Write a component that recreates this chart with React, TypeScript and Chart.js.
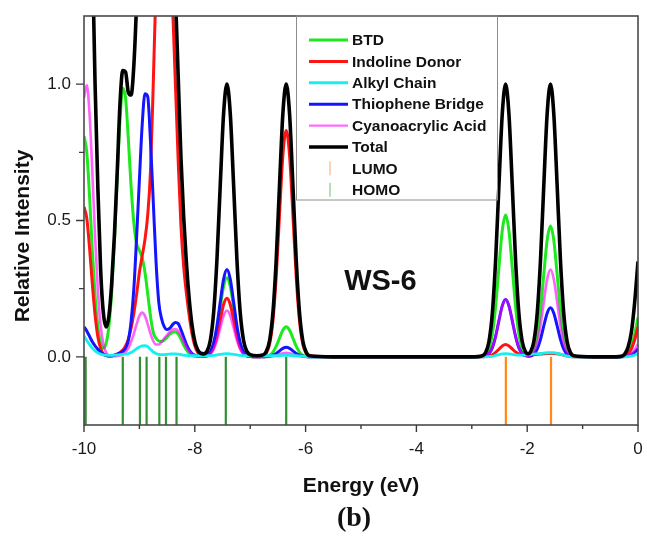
import React, { useEffect, useRef } from 'react';
import { Chart, registerables } from 'chart.js';

Chart.register(...registerables);

// ---------- DATA ----------
const energy = [
  -10, -9.95, -9.9, -9.85, -9.8, -9.75, -9.7, -9.65, -9.6, -9.55, -9.5, -9.45, -9.4, -9.35, -9.3, -9.25, -9.2, -9.15, -9.1, -9.05,
  -9.0, -8.95, -8.9, -8.85, -8.8, -8.75, -8.7, -8.65, -8.6, -8.55, -8.5, -8.45, -8.4, -8.35, -8.3, -8.25, -8.2, -8.15, -8.1, -8.05,
  -8.0, -7.95, -7.9,
  -7.84, -7.78, -7.72, -7.66, -7.6, -7.54, -7.48, -7.42, -7.36, -7.3, -7.24, -7.18, -7.12, -7.06, -7.0,
  -6.88,
  -6.77, -6.71, -6.65, -6.59, -6.53, -6.47, -6.41, -6.35, -6.29, -6.23, -6.17, -6.11, -6.05, -5.99, -5.93,
  -5.5, -4.5, -3.5, -3.0,
  -2.81, -2.75, -2.69, -2.63, -2.57, -2.51, -2.45, -2.39, -2.33, -2.27, -2.21, -2.15, -2.09, -2.03,
  -1.985,
  -1.94, -1.88, -1.82, -1.76, -1.7, -1.64, -1.58, -1.52, -1.46, -1.4, -1.34, -1.28, -1.22, -1.16,
  -0.8, -0.4, -0.3, -0.24, -0.18, -0.12, -0.06, 0,
];

const btd = [
  0.81, 0.75, 0.59, 0.39, 0.225, 0.11, 0.05, 0.032, 0.05, 0.113, 0.237, 0.428, 0.66, 0.867, 0.985, 0.95, 0.8, 0.625, 0.49, 0.415,
  0.39, 0.363, 0.31, 0.232, 0.15, 0.09, 0.068, 0.058, 0.056, 0.062, 0.072, 0.083, 0.09, 0.092, 0.083, 0.065, 0.043, 0.025, 0.012, 0.005,
  0.002, 0.001, 0.001,
  0.001, 0.005, 0.016, 0.046, 0.103, 0.183, 0.258, 0.29, 0.258, 0.183, 0.103, 0.046, 0.016, 0.005, 0.001,
  0,
  0, 0.002, 0.006, 0.017, 0.039, 0.069, 0.098, 0.11, 0.098, 0.069, 0.039, 0.017, 0.006, 0.002, 0,
  0, 0, 0, 0,
  0.002, 0.008, 0.029, 0.082, 0.185, 0.328, 0.463, 0.52, 0.463, 0.328, 0.185, 0.082, 0.029, 0.009,
  0.005,
  0.008, 0.027, 0.076, 0.17, 0.303, 0.428, 0.48, 0.428, 0.303, 0.17, 0.076, 0.027, 0.008, 0.002,
  0, 0, 0.001, 0.004, 0.014, 0.037, 0.083, 0.145,
];

const indolineDonor = [
  0.55, 0.508, 0.4, 0.268, 0.153, 0.074, 0.031, 0.011, 0.004, 0.002, 0.003, 0.006, 0.01, 0.016, 0.025, 0.04, 0.065, 0.105, 0.16, 0.23,
  0.31, 0.37, 0.43, 0.52, 0.68, 1.0, 1.36, 1.6, 1.75, 1.75, 1.65, 1.5, 1.28, 1.0, 0.72, 0.48, 0.33, 0.23, 0.15, 0.085,
  0.04, 0.017, 0.006,
  0.003, 0.003, 0.012, 0.034, 0.076, 0.136, 0.192, 0.215, 0.192, 0.136, 0.076, 0.034, 0.012, 0.003, 0.001,
  0,
  0.003, 0.013, 0.046, 0.131, 0.295, 0.524, 0.74, 0.83, 0.74, 0.524, 0.295, 0.131, 0.046, 0.013, 0.003,
  0, 0, 0, 0,
  0, 0.001, 0.003, 0.007, 0.016, 0.028, 0.04, 0.045, 0.04, 0.029, 0.018, 0.011, 0.008, 0.007,
  0.007,
  0.007, 0.008, 0.009, 0.01, 0.011, 0.012, 0.012, 0.012, 0.011, 0.009, 0.006, 0.003, 0.001, 0,
  0, 0, 0.001, 0.003, 0.011, 0.028, 0.062, 0.11,
];

const alkylChain = [
  0.077, 0.06, 0.045, 0.032, 0.022, 0.015, 0.01, 0.007, 0.006, 0.005, 0.005, 0.006, 0.007, 0.008, 0.009, 0.01, 0.012, 0.016, 0.022, 0.03,
  0.036, 0.04, 0.041, 0.037, 0.028, 0.018, 0.012, 0.009, 0.008, 0.008, 0.009, 0.01, 0.011, 0.011, 0.01, 0.008, 0.006, 0.005, 0.004, 0.004,
  0.004, 0.004, 0.004,
  0.004, 0.004, 0.0045, 0.005, 0.007, 0.009, 0.011, 0.012, 0.011, 0.009, 0.007, 0.005, 0.0045, 0.004, 0.004,
  0.004,
  0.004, 0.004, 0.004, 0.004, 0.004, 0.004, 0.005, 0.005, 0.005, 0.004, 0.004, 0.003, 0.002, 0.001, 0,
  0, 0, 0, 0,
  0, 0, 0.001, 0.002, 0.005, 0.008, 0.011, 0.012, 0.011, 0.009, 0.007, 0.006, 0.006, 0.007,
  0.008,
  0.009, 0.01, 0.011, 0.012, 0.014, 0.015, 0.015, 0.015, 0.013, 0.01, 0.006, 0.003, 0.001, 0,
  0, 0, 0, 0, 0.001, 0.003, 0.006, 0.012,
];

const thiopheneBridge = [
  0.11, 0.095, 0.075, 0.055, 0.04, 0.028, 0.017, 0.01, 0.006, 0.004, 0.004, 0.006, 0.01, 0.014, 0.02, 0.03, 0.06, 0.13, 0.25, 0.44,
  0.65, 0.85, 0.965, 0.955, 0.79, 0.57, 0.35, 0.2, 0.14, 0.11, 0.1, 0.105, 0.118, 0.126, 0.122, 0.1, 0.072, 0.045, 0.025, 0.012,
  0.006, 0.004, 0.003,
  0.002, 0.005, 0.018, 0.051, 0.114, 0.202, 0.285, 0.32, 0.285, 0.202, 0.114, 0.051, 0.018, 0.005, 0.001,
  0,
  0, 0.001, 0.002, 0.006, 0.012, 0.022, 0.031, 0.035, 0.031, 0.022, 0.012, 0.006, 0.002, 0.001, 0,
  0, 0, 0, 0,
  0.001, 0.003, 0.012, 0.033, 0.075, 0.133, 0.187, 0.21, 0.187, 0.133, 0.075, 0.033, 0.012, 0.004,
  0.002,
  0.003, 0.01, 0.028, 0.064, 0.114, 0.16, 0.18, 0.16, 0.114, 0.064, 0.028, 0.01, 0.003, 0.001,
  0, 0, 0, 0.001, 0.003, 0.008, 0.017, 0.03,
];

const cyanoacrylicAcid = [
  0.95, 0.997, 0.891, 0.679, 0.441, 0.244, 0.115, 0.046, 0.016, 0.005, 0.002, 0.002, 0.003, 0.005, 0.01, 0.018, 0.032, 0.055, 0.085, 0.12,
  0.15, 0.162, 0.15, 0.12, 0.085, 0.058, 0.045, 0.045, 0.055, 0.068, 0.08, 0.092, 0.1, 0.102, 0.095, 0.078, 0.056, 0.036, 0.02, 0.01,
  0.005, 0.002, 0.001,
  0.001, 0.003, 0.01, 0.027, 0.06, 0.107, 0.151, 0.17, 0.151, 0.107, 0.06, 0.027, 0.01, 0.003, 0.001,
  0,
  0, 0, 0.001, 0.002, 0.005, 0.009, 0.013, 0.015, 0.013, 0.009, 0.005, 0.002, 0.001, 0, 0,
  0, 0, 0, 0,
  0.001, 0.003, 0.012, 0.033, 0.075, 0.133, 0.187, 0.21, 0.187, 0.133, 0.075, 0.033, 0.012, 0.004,
  0.003,
  0.005, 0.018, 0.051, 0.114, 0.202, 0.285, 0.32, 0.285, 0.202, 0.114, 0.051, 0.018, 0.005, 0.001,
  0, 0, 0, 0.001, 0.005, 0.012, 0.026, 0.046,
];

const total = [
  2.5, 2.4, 2.0, 1.5, 1.0, 0.62, 0.32, 0.16, 0.11, 0.15, 0.27, 0.45, 0.68, 0.93, 1.05, 1.045, 0.97, 0.96, 1.07, 1.3,
  1.6, 1.79, 1.89, 1.85, 1.73, 1.74, 1.84, 1.91, 2.01, 2.0, 1.91, 1.79, 1.6, 1.33, 1.03, 0.73, 0.51, 0.34, 0.21, 0.116,
  0.057, 0.027, 0.014,
  0.011, 0.02, 0.06, 0.162, 0.358, 0.633, 0.893, 1.0, 0.893, 0.633, 0.358, 0.162, 0.06, 0.02, 0.008,
  0.004,
  0.007, 0.02, 0.06, 0.162, 0.358, 0.633, 0.893, 1.0, 0.893, 0.633, 0.358, 0.162, 0.058, 0.018, 0.004,
  0, 0, 0, 0,
  0.004, 0.016, 0.056, 0.158, 0.355, 0.631, 0.891, 1.0, 0.891, 0.631, 0.355, 0.158, 0.056, 0.018,
  0.011,
  0.018, 0.056, 0.158, 0.355, 0.631, 0.891, 1.0, 0.891, 0.631, 0.355, 0.158, 0.056, 0.016, 0.004,
  0, 0, 0.002, 0.01, 0.035, 0.09, 0.2, 0.35,
];

const homoLevels = [-9.99, -9.97, -9.3, -8.99, -8.87, -8.64, -8.52, -8.33, -7.44, -6.35];
const lumoLevels = [-2.385, -1.57];

const xMajorTicks = [-10, -8, -6, -4, -2, 0];
const xMinorTicks = [-9, -7, -5, -3, -1];
const yMajorTicks = [0, 0.5, 1.0];
const yMinorTicks = [0.25, 0.75];

const X_MIN = -10;
const X_MAX = 0;
const Y_MIN = -0.25;
const Y_MAX = 1.25;

const seriesNames = ['BTD', 'Indoline Donor', 'Alkyl Chain', 'Thiophene Bridge', 'Cyanoacrylic Acid', 'Total'];
const levelNames = ['LUMO', 'HOMO'];
const panelLabel = 'WS-6';
const panelLetter = '(b)';
const xTitle = 'Energy (eV)';
const yTitle = 'Relative Intensity';

// ---------- STYLE ----------
const FONT = '"Liberation Sans", Arial, Helvetica, sans-serif';
const C_GREEN = '#1ee81e';
const C_RED = '#ff1414';
const C_CYAN = '#14f0f0';
const C_BLUE = '#1414ff';
const C_MAGENTA = 'rgba(255,0,255,0.62)';
const C_MAGENTA_LEG = '#ff6cff';
const C_BLACK = '#000000';
const C_HOMO = '#338f33';
const C_LUMO = '#ff8a1c';

const pts = (vals: number[]) => energy.map((e, i) => ({ x: e, y: vals[i] }));
const sticks = (levels: number[]) =>
  levels.flatMap((e) => [
    { x: e, y: 0 },
    { x: e, y: Y_MIN },
    { x: e, y: null as any },
  ]);

const zeroPad = (s: any) => {
  s.paddingLeft = 0;
  s.paddingRight = 0;
  s.paddingTop = 0;
  s.paddingBottom = 0;
};

const decorPlugin = {
  id: 'decor',
  afterDatasetsDraw(chart: any) {
    const { ctx, chartArea: ca, scales } = chart;
    const x = scales.x;
    const y = scales.y;
    ctx.save();

    // frame
    ctx.strokeStyle = '#4a4a4a';
    ctx.lineWidth = 1.6;
    ctx.strokeRect(ca.left, ca.top, ca.right - ca.left, ca.bottom - ca.top);

    // ticks
    ctx.strokeStyle = '#3a3a3a';
    ctx.lineWidth = 1.4;
    ctx.beginPath();
    xMajorTicks.forEach((v) => {
      const px = x.getPixelForValue(v);
      ctx.moveTo(px, ca.bottom);
      ctx.lineTo(px, ca.bottom + 7);
    });
    xMinorTicks.forEach((v) => {
      const px = x.getPixelForValue(v);
      ctx.moveTo(px, ca.bottom);
      ctx.lineTo(px, ca.bottom + 4);
    });
    yMajorTicks.forEach((v) => {
      const py = y.getPixelForValue(v);
      ctx.moveTo(ca.left, py);
      ctx.lineTo(ca.left - 8, py);
    });
    yMinorTicks.forEach((v) => {
      const py = y.getPixelForValue(v);
      ctx.moveTo(ca.left, py);
      ctx.lineTo(ca.left - 5, py);
    });
    ctx.stroke();

    // legend box
    const lx = ca.left + 212;
    const ly = ca.top;
    const lw = 201;
    const lh = 184;
    ctx.strokeStyle = '#8c8c8c';
    ctx.lineWidth = 1;
    ctx.strokeRect(lx + 0.5, ly, lw, lh);

    const legColors = [C_GREEN, C_RED, C_CYAN, C_BLUE, C_MAGENTA_LEG, C_BLACK];
    const rowStep = 21.4;
    ctx.font = `bold 15.5px ${FONT}`;
    ctx.textBaseline = 'middle';
    ctx.textAlign = 'left';
    seriesNames.forEach((name, i) => {
      const ry = ly + 24 + i * rowStep;
      ctx.strokeStyle = legColors[i];
      ctx.lineWidth = i === 5 ? 3.5 : i === 4 ? 2.2 : 3;
      ctx.beginPath();
      ctx.moveTo(lx + 13, ry);
      ctx.lineTo(lx + 52, ry);
      ctx.stroke();
      ctx.fillStyle = '#111';
      ctx.fillText(name, lx + 56, ry + 1);
    });
    const levColors = ['#f7a56e', '#6cbf6c'];
    levelNames.forEach((name, j) => {
      const ry = ly + 24 + (6 + j) * rowStep;
      ctx.strokeStyle = levColors[j];
      ctx.lineWidth = 1;
      ctx.beginPath();
      ctx.moveTo(lx + 34, ry - 7);
      ctx.lineTo(lx + 34, ry + 7);
      ctx.stroke();
      ctx.fillStyle = '#111';
      ctx.fillText(name, lx + 56, ry + 1);
    });

    // panel label
    ctx.fillStyle = '#111';
    ctx.font = `bold 29px ${FONT}`;
    ctx.textAlign = 'center';
    ctx.textBaseline = 'middle';
    ctx.fillText(panelLabel, x.getPixelForValue(-4.65), y.getPixelForValue(0.275));

    // axis titles
    ctx.font = `bold 21px ${FONT}`;
    ctx.fillText(xTitle, (ca.left + ca.right) / 2, 486);
    ctx.save();
    ctx.translate(23, 236);
    ctx.rotate(-Math.PI / 2);
    ctx.fillText(yTitle, 0, 0);
    ctx.restore();

    ctx.font = `bold 28px "Liberation Serif", "Times New Roman", serif`;
    ctx.fillText(panelLetter, 354, 519);

    ctx.restore();
  },
};

export default function App() {
  const ref = useRef<HTMLCanvasElement | null>(null);

  useEffect(() => {
    if (!ref.current) return;
    const curve = (label: string, vals: number[], color: string, width: number) => ({
      label,
      data: pts(vals),
      borderColor: color,
      backgroundColor: color,
      borderWidth: width,
      pointRadius: 0,
      fill: false,
      cubicInterpolationMode: 'monotone' as const,
    });
    const stick = (label: string, levels: number[], color: string) => ({
      label,
      data: sticks(levels),
      borderColor: color,
      backgroundColor: color,
      borderWidth: 2.2,
      pointRadius: 0,
      fill: false,
      tension: 0,
      spanGaps: false,
    });

    const chart = new Chart(ref.current, {
      type: 'line',
      data: {
        datasets: [
          curve(seriesNames[5], total, C_BLACK, 3.6),
          curve(seriesNames[2], alkylChain, C_CYAN, 2.8),
          curve(seriesNames[4], cyanoacrylicAcid, C_MAGENTA, 2.6),
          curve(seriesNames[3], thiopheneBridge, C_BLUE, 3),
          curve(seriesNames[1], indolineDonor, C_RED, 3),
          curve(seriesNames[0], btd, C_GREEN, 3),
          stick(levelNames[0], lumoLevels, C_LUMO),
          stick(levelNames[1], homoLevels, C_HOMO),
        ] as any,
      },
      options: {
        animation: false,
        responsive: false,
        devicePixelRatio: 1,
        layout: { padding: { left: 0, right: 9, top: 16, bottom: 0 } },
        plugins: { legend: { display: false }, tooltip: { enabled: false } },
        elements: { point: { radius: 0 } },
        scales: {
          x: {
            type: 'linear',
            min: X_MIN,
            max: X_MAX,
            afterBuildTicks: (s: any) => {
              s.ticks = xMajorTicks.map((v) => ({ value: v }));
            },
            ticks: {
              font: { family: FONT, size: 17 },
              color: '#1a1a1a',
              padding: 14,
              maxRotation: 0,
              autoSkip: false,
              callback: (v: any) => String(v),
            },
            grid: { display: false, drawTicks: false },
            border: { display: false },
            afterFit: (s: any) => {
              s.height = 111;
              zeroPad(s);
            },
          },
          y: {
            type: 'linear',
            min: Y_MIN,
            max: Y_MAX,
            afterBuildTicks: (s: any) => {
              s.ticks = yMajorTicks.map((v) => ({ value: v }));
            },
            ticks: {
              font: { family: FONT, size: 17 },
              color: '#1a1a1a',
              padding: 13,
              callback: (v: any) => Number(v).toFixed(1),
            },
            grid: { display: false, drawTicks: false },
            border: { display: false },
            afterFit: (s: any) => {
              s.width = 84;
              zeroPad(s);
            },
          },
        },
      } as any,
      plugins: [decorPlugin],
    });
    return () => chart.destroy();
  }, []);

  return (
    <div style={{ position: 'fixed', left: 0, top: 0, width: 647, height: 536, background: '#fff' }}>
      <canvas ref={ref} width={647} height={536} style={{ display: 'block' }} />
    </div>
  );
}
